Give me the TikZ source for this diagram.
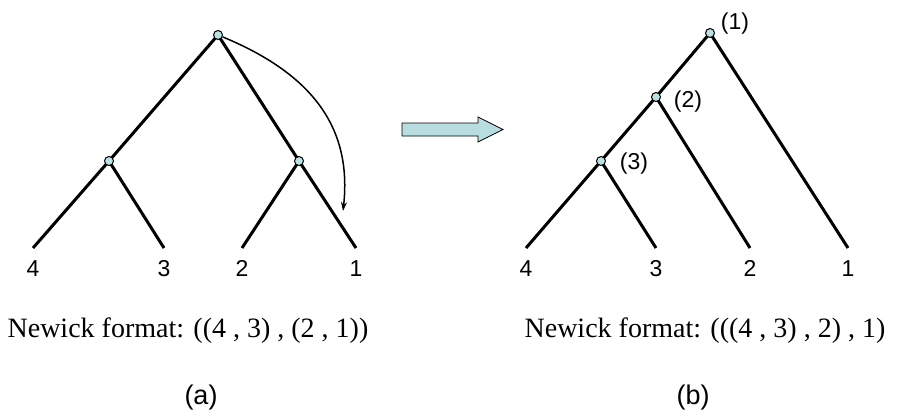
\documentclass[tikz,border=0pt]{standalone}
\usepackage{fontspec}
\setmainfont{Liberation Sans}
\newfontfamily\newickfont{Liberation Serif}
\usetikzlibrary{arrows.meta, positioning, backgrounds}
\definecolor{mydark}{RGB}{0,0,0}
\definecolor{nodecyan}{RGB}{187,224,227}
\definecolor{arrowcyan}{RGB}{183,221,224}
\tikzset{
  innode/.style={circle, draw=mydark, fill=nodecyan, inner sep=0pt,
    minimum size=9pt, line width=1pt},
  branch/.style={line width=3pt, color=mydark},
  leaflabel/.style={font=\fontsize{23}{27}\selectfont},
  steplabel/.style={font=\fontsize{23}{27}\selectfont},
  newick/.style={font=\newickfont\fontsize{28}{32}\selectfont, anchor=base},
  caption/.style={font=\fontsize{27}{31}\selectfont, anchor=base},
  curvearrow/.style={-{Stealth[length=9pt, width=6pt]}, line width=1.5pt, color=mydark},
  bigarrow/.style={fill=arrowcyan, draw=mydark, line width=0.8pt}
}

\begin{document}
\begin{tikzpicture}[x=1pt, y=-1pt]
  \useasboundingbox (0,0) rectangle (909,417);

  % Tree (a)
  \node[innode] (lroot)  at (218,35) {};
  \node[innode] (lleft)  at (109,161) {};
  \node[innode] (lright) at (299,161) {};
  \coordinate (l4) at (33,248);
  \coordinate (l3) at (164,248);
  \coordinate (l2) at (242,248);
  \coordinate (l1) at (356,248);
  \begin{scope}[on background layer]
    \draw[branch] (lroot.center) -- (lleft.center) -- (l4);
    \draw[branch] (lleft.center) -- (l3);
    \draw[branch] (lroot.center) -- (lright.center) -- (l2);
    \draw[branch] (lright.center) -- (l1);
  \end{scope}
  \node[leaflabel, below=9pt of l4] (l4lab) {4};
  \node[leaflabel, below=9pt of l3] (l3lab) {3};
  \node[leaflabel, below=9pt of l2] (l2lab) {2};
  \node[leaflabel, below=9pt of l1] (l1lab) {1};

  % Re-rooting arrow
  \coordinate (arrowend) at (343,211);
  \draw[curvearrow] (lroot) .. controls (315,75) and (352,130) .. (arrowend);

  % Big arrow between the trees
  \draw[bigarrow] (402,123) -- (478,123) -- (478,117) -- (503,129.5)
    -- (478,142) -- (478,136) -- (402,136) -- cycle;

  % Tree (b)
  \node[innode] (rroot) at (710,33) {};
  \node[innode] (rn2)   at (656,97) {};
  \node[innode] (rn3)   at (601,161) {};
  \coordinate (r4) at (526,248);
  \coordinate (r3) at (656,248);
  \coordinate (r2) at (750,248);
  \coordinate (r1) at (848,248);
  \begin{scope}[on background layer]
    \draw[branch] (rroot.center) -- (rn2.center) -- (rn3.center) -- (r4);
    \draw[branch] (rn3.center) -- (r3);
    \draw[branch] (rn2.center) -- (r2);
    \draw[branch] (rroot.center) -- (r1);
  \end{scope}
  \node[leaflabel, below=9pt of r4] (r4lab) {4};
  \node[leaflabel, below=9pt of r3] (r3lab) {3};
  \node[leaflabel, below=9pt of r2] (r2lab) {2};
  \node[leaflabel, below=9pt of r1] (r1lab) {1};
  \node[steplabel] (rootlab) at (735,24) {(1)};
  \node[steplabel] (n2lab)   at (688,102) {(2)};
  \node[steplabel] (n3lab)   at (634,164) {(3)};

  % Captions
  \node[newick] (lnewick) at (188,337) {Newick format: ((4 , 3) , (2 , 1))};
  \node[newick] (rnewick) at (705,337) {Newick format: (((4 , 3) , 2) , 1)};
  \node[caption] (capa) at (201,404) {(a)};
  \node[caption] (capb) at (693,404) {(b)};
\end{tikzpicture}
\end{document}
